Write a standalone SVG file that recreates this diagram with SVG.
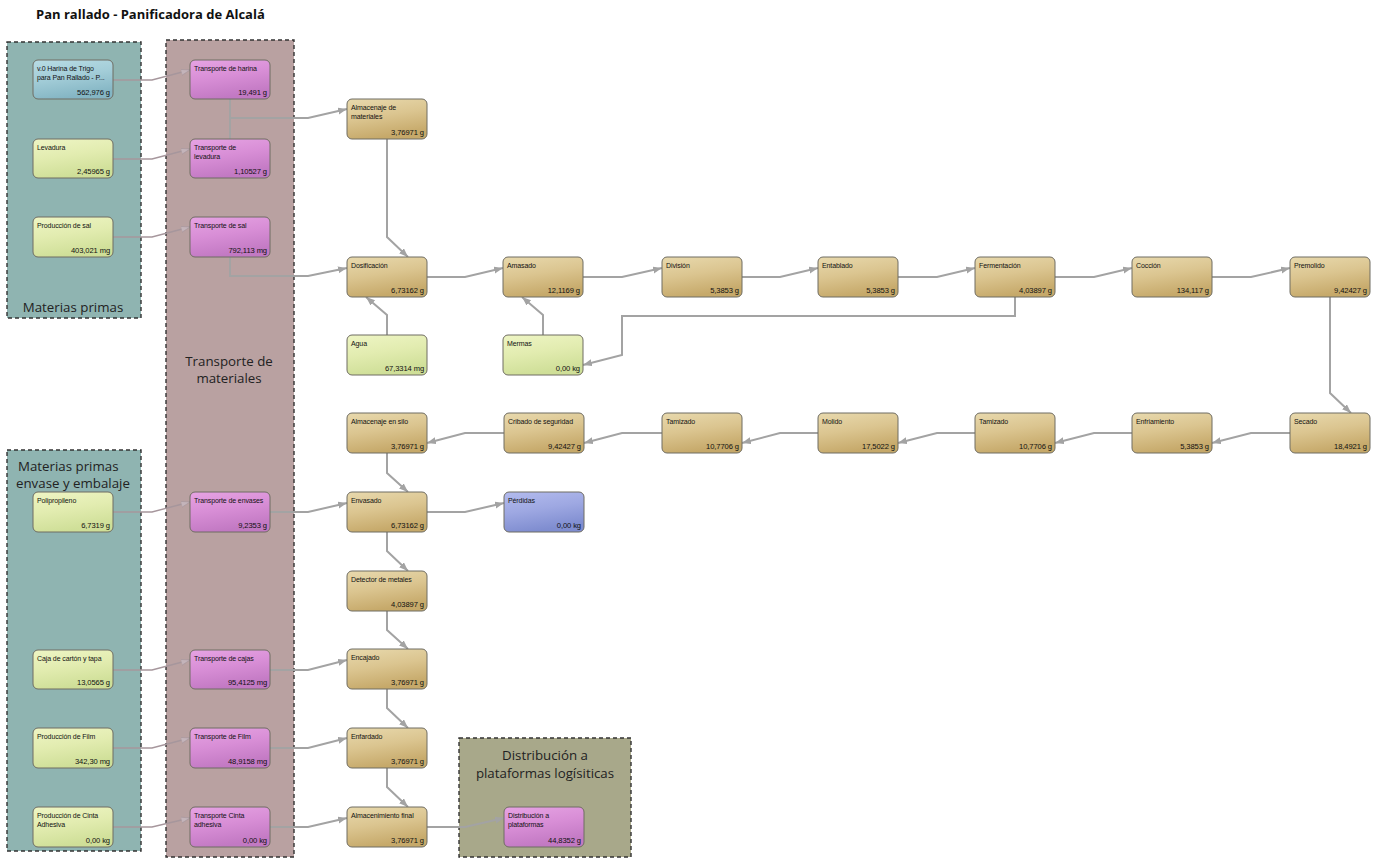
<svg xmlns="http://www.w3.org/2000/svg" width="1381" height="858" viewBox="0 0 1381 858">
  <style>
    .title { font-family: "Open Sans", "Liberation Sans", sans-serif; font-weight: bold; font-size: 13px; fill: #111; }
    .glabel { font-family: "Open Sans", "DejaVu Sans", sans-serif; font-size: 13.3px; fill: #222; }
    .group { stroke: #333; stroke-width: 1.4; stroke-dasharray: 4 3; }
    .node rect { stroke: #6f6c62; stroke-width: 1; }
    .node text { font-family: "Liberation Sans", Arial, sans-serif; font-size: 7px; fill: #111; letter-spacing: -0.1px; }
    .node .val { text-anchor: end; font-size: 7.6px; }
    .proc rect { fill: url(#gProc); }
    .raw rect { fill: url(#gRaw); }
    .trans rect { fill: url(#gTrans); }
    .blue rect { fill: url(#gBlue); }
    .loss rect { fill: url(#gLoss); }
    .flow { fill: none; stroke: #a3a3a3; stroke-width: 2; marker-end: url(#arr); }
    .feed { fill: none; stroke: #a6969c; stroke-width: 1.4; marker-end: url(#arrLight); }
    .joint { fill: none; stroke: #a3a3a3; stroke-width: 2; }
  </style>
  <defs>
    <linearGradient id="gProc" x1="0" y1="0" x2="0.3" y2="1">
      <stop offset="0" stop-color="#e8d9ad"/>
      <stop offset="0.5" stop-color="#dbc590"/>
      <stop offset="1" stop-color="#c6a96a"/>
    </linearGradient>
    <linearGradient id="gRaw" x1="0" y1="0" x2="0.3" y2="1">
      <stop offset="0" stop-color="#eef5c4"/>
      <stop offset="0.5" stop-color="#e2ecb0"/>
      <stop offset="1" stop-color="#cfdf98"/>
    </linearGradient>
    <linearGradient id="gTrans" x1="0" y1="0" x2="0.3" y2="1">
      <stop offset="0" stop-color="#e6a3e3"/>
      <stop offset="0.5" stop-color="#d88ed6"/>
      <stop offset="1" stop-color="#c279c3"/>
    </linearGradient>
    <linearGradient id="gBlue" x1="0" y1="0" x2="0.3" y2="1">
      <stop offset="0" stop-color="#b8dce4"/>
      <stop offset="0.5" stop-color="#a3cdd8"/>
      <stop offset="1" stop-color="#85b6c4"/>
    </linearGradient>
    <linearGradient id="gLoss" x1="0" y1="0" x2="0.3" y2="1">
      <stop offset="0" stop-color="#b3bbee"/>
      <stop offset="0.5" stop-color="#9ea8e2"/>
      <stop offset="1" stop-color="#7f8dd0"/>
    </linearGradient>
    <marker id="arr" markerUnits="userSpaceOnUse" markerWidth="10" markerHeight="8" refX="9" refY="3.5" orient="auto">
      <path d="M0,0 L9,3.5 L0,7 z" fill="#a3a3a3"/>
    </marker>
    <marker id="arrLight" markerUnits="userSpaceOnUse" markerWidth="10" markerHeight="8" refX="9" refY="3.5" orient="auto">
      <path d="M0,0.5 L9,3.5 L0,6.5 z" fill="#c4b4ba" stroke="#a6969c" stroke-width="0.6"/>
    </marker>
  </defs>

  <rect width="1381" height="858" fill="#ffffff"/>

  <text class="title" x="36" y="19">Pan rallado - Panificadora de Alcalá</text>

  <!-- containers -->
  <g id="grp-materias-primas">
    <rect class="group" x="7" y="42" width="134" height="276" fill="#8fb4b1"/>
    <text class="glabel" x="73" y="312" text-anchor="middle">Materias primas</text>
  </g>
  <g id="grp-transporte">
    <rect class="group" x="166" y="40" width="128" height="817" fill="#b9a1a1"/>
    <text class="glabel" x="229" y="366" text-anchor="middle">Transporte de</text>
    <text class="glabel" x="229" y="383" text-anchor="middle">materiales</text>
  </g>
  <g id="grp-envase">
    <rect class="group" x="7" y="450" width="134" height="401" fill="#8fb4b1"/>
    <text class="glabel" x="18" y="471">Materias primas</text>
    <text class="glabel" x="16" y="488">envase y embalaje</text>
  </g>
  <g id="grp-distribucion">
    <rect class="group" x="459" y="738" width="172" height="119" fill="#a8a88a"/>
    <text class="glabel" x="545" y="760" text-anchor="middle">Distribución a</text>
    <text class="glabel" x="545" y="778" text-anchor="middle">plataformas logísiticas</text>
  </g>

  <!-- connectors -->
  <g id="connectors">
    <path class="feed" d="M113,80 H152 L190,70"/>
    <path class="feed" d="M113,159 H152 L190,149"/>
    <path class="feed" d="M113,237 H152 L190,227"/>
    <path class="feed" d="M113,512 H152 L190,502"/>
    <path class="feed" d="M113,670 H152 L190,660"/>
    <path class="feed" d="M113,748 H152 L190,738"/>
    <path class="feed" d="M113,827 H152 L190,818"/>

    <path class="joint" d="M230,99 V139"/>
    <path class="flow" d="M230,118 H308 L347,109"/>
    <path class="flow" d="M230,257 V276 H308 L347,268"/>
    <path class="flow" d="M387,139 V237 L408,257"/>
    <path class="flow" d="M387,335 V315 L366,297"/>
    <path class="flow" d="M427,277 H465 L503,268"/>
    <path class="flow" d="M543,335 V315 L522,297"/>
    <path class="flow" d="M583,277 H622 L662,268"/>
    <path class="flow" d="M742,277 H780 L818,268"/>
    <path class="flow" d="M898,277 H937 L975,268"/>
    <path class="flow" d="M1055,277 H1094 L1132,268"/>
    <path class="flow" d="M1212,277 H1251 L1290,268"/>
    <path class="flow" d="M1015,297 V316 H622 V355 L583,365"/>
    <path class="flow" d="M1330,297 V393 L1351,413"/>
    <path class="flow" d="M1290,433 H1251 L1212,443"/>
    <path class="flow" d="M1132,433 H1094 L1055,443"/>
    <path class="flow" d="M975,433 H937 L898,443"/>
    <path class="flow" d="M818,433 H780 L742,443"/>
    <path class="flow" d="M662,433 H622 L584,443"/>
    <path class="flow" d="M504,433 H465 L427,443"/>
    <path class="flow" d="M387,453 V473 L408,492"/>
    <path class="flow" d="M270,512 H308 L347,503"/>
    <path class="flow" d="M427,512 H465 L504,503"/>
    <path class="flow" d="M387,532 V551 L408,571"/>
    <path class="flow" d="M387,611 V630 L408,649"/>
    <path class="flow" d="M270,670 H308 L347,660"/>
    <path class="flow" d="M387,689 V708 L408,728"/>
    <path class="flow" d="M270,748 H308 L347,738"/>
    <path class="flow" d="M387,768 V787 L408,807"/>
    <path class="flow" d="M270,827 H308 L347,818"/>
    <path class="flow" d="M427,827 H465 L504,818"/>
  </g>

  <!-- raw materials -->
  <g id="n-harina" class="node blue"><rect x="33" y="60" width="80" height="39" rx="5"/><text x="37" y="71">v.0 Harina de Trigo</text><text x="37" y="80">para Pan Rallado - P...</text><text class="val" x="110" y="95">562,976 g</text></g>
  <g id="n-levadura" class="node raw"><rect x="33" y="139" width="80" height="39" rx="5"/><text x="37" y="150">Levadura</text><text class="val" x="110" y="174">2,45965 g</text></g>
  <g id="n-sal" class="node raw"><rect x="33" y="217" width="80" height="40" rx="5"/><text x="37" y="228">Producción de sal</text><text class="val" x="110" y="253">403,021 mg</text></g>
  <g id="n-polipropileno" class="node raw"><rect x="33" y="492" width="80" height="40" rx="5"/><text x="37" y="503">Polipropileno</text><text class="val" x="110" y="528">6,7319 g</text></g>
  <g id="n-caja" class="node raw"><rect x="33" y="650" width="80" height="39" rx="5"/><text x="37" y="661">Caja de cartón y tapa</text><text class="val" x="110" y="685">13,0565 g</text></g>
  <g id="n-film" class="node raw"><rect x="33" y="728" width="80" height="40" rx="5"/><text x="37" y="739">Producción de Film</text><text class="val" x="110" y="764">342,30 mg</text></g>
  <g id="n-cinta" class="node raw"><rect x="33" y="807" width="80" height="40" rx="5"/><text x="37" y="818">Producción de Cinta</text><text x="37" y="827">Adhesiva</text><text class="val" x="110" y="843">0,00 kg</text></g>

  <!-- transport -->
  <g id="n-t-harina" class="node trans"><rect x="190" y="60" width="80" height="39" rx="5"/><text x="194" y="71">Transporte de harina</text><text class="val" x="267" y="95">19,491 g</text></g>
  <g id="n-t-levadura" class="node trans"><rect x="190" y="139" width="80" height="39" rx="5"/><text x="194" y="150">Transporte de</text><text x="194" y="159">levadura</text><text class="val" x="267" y="174">1,10527 g</text></g>
  <g id="n-t-sal" class="node trans"><rect x="190" y="217" width="80" height="40" rx="5"/><text x="194" y="228">Transporte de sal</text><text class="val" x="267" y="253">792,113 mg</text></g>
  <g id="n-t-envases" class="node trans"><rect x="190" y="492" width="80" height="40" rx="5"/><text x="194" y="503">Transporte de envases</text><text class="val" x="267" y="528">9,2353 g</text></g>
  <g id="n-t-cajas" class="node trans"><rect x="190" y="650" width="80" height="39" rx="5"/><text x="194" y="661">Transporte de cajas</text><text class="val" x="267" y="685">95,4125 mg</text></g>
  <g id="n-t-film" class="node trans"><rect x="190" y="728" width="80" height="40" rx="5"/><text x="194" y="739">Transporte de Film</text><text class="val" x="267" y="764">48,9158 mg</text></g>
  <g id="n-t-cinta" class="node trans"><rect x="190" y="807" width="80" height="40" rx="5"/><text x="194" y="818">Transporte Cinta</text><text x="194" y="827">adhesiva</text><text class="val" x="267" y="843">0,00 kg</text></g>

  <!-- process -->
  <g id="n-almacenaje-mat" class="node proc"><rect x="347" y="99" width="80" height="40" rx="5"/><text x="351" y="110">Almacenaje de</text><text x="351" y="119">materiales</text><text class="val" x="424" y="135">3,76971 g</text></g>
  <g id="n-dosificacion" class="node proc"><rect x="347" y="257" width="80" height="40" rx="5"/><text x="351" y="268">Dosificación</text><text class="val" x="424" y="293">6,73162 g</text></g>
  <g id="n-amasado" class="node proc"><rect x="503" y="257" width="80" height="40" rx="5"/><text x="507" y="268">Amasado</text><text class="val" x="580" y="293">12,1169 g</text></g>
  <g id="n-division" class="node proc"><rect x="662" y="257" width="80" height="40" rx="5"/><text x="666" y="268">División</text><text class="val" x="739" y="293">5,3853 g</text></g>
  <g id="n-entablado" class="node proc"><rect x="818" y="257" width="80" height="40" rx="5"/><text x="822" y="268">Entablado</text><text class="val" x="895" y="293">5,3853 g</text></g>
  <g id="n-fermentacion" class="node proc"><rect x="975" y="257" width="80" height="40" rx="5"/><text x="979" y="268">Fermentación</text><text class="val" x="1052" y="293">4,03897 g</text></g>
  <g id="n-coccion" class="node proc"><rect x="1132" y="257" width="80" height="40" rx="5"/><text x="1136" y="268">Cocción</text><text class="val" x="1209" y="293">134,117 g</text></g>
  <g id="n-premolido" class="node proc"><rect x="1290" y="257" width="80" height="40" rx="5"/><text x="1294" y="268">Premolido</text><text class="val" x="1367" y="293">9,42427 g</text></g>
  <g id="n-agua" class="node raw"><rect x="347" y="335" width="80" height="40" rx="5"/><text x="351" y="346">Agua</text><text class="val" x="424" y="371">67,3314 mg</text></g>
  <g id="n-mermas" class="node raw"><rect x="503" y="335" width="80" height="40" rx="5"/><text x="507" y="346">Mermas</text><text class="val" x="580" y="371">0,00 kg</text></g>

  <g id="n-secado" class="node proc"><rect x="1290" y="413" width="80" height="40" rx="5"/><text x="1294" y="424">Secado</text><text class="val" x="1367" y="449">18,4921 g</text></g>
  <g id="n-enfriamiento" class="node proc"><rect x="1132" y="413" width="80" height="40" rx="5"/><text x="1136" y="424">Enfriamiento</text><text class="val" x="1209" y="449">5,3853 g</text></g>
  <g id="n-tamizado-2" class="node proc"><rect x="975" y="413" width="80" height="40" rx="5"/><text x="979" y="424">Tamizado</text><text class="val" x="1052" y="449">10,7706 g</text></g>
  <g id="n-molido" class="node proc"><rect x="818" y="413" width="80" height="40" rx="5"/><text x="822" y="424">Molido</text><text class="val" x="895" y="449">17,5022 g</text></g>
  <g id="n-tamizado-1" class="node proc"><rect x="662" y="413" width="80" height="40" rx="5"/><text x="666" y="424">Tamizado</text><text class="val" x="739" y="449">10,7706 g</text></g>
  <g id="n-cribado" class="node proc"><rect x="504" y="413" width="80" height="40" rx="5"/><text x="508" y="424">Cribado de seguridad</text><text class="val" x="581" y="449">9,42427 g</text></g>
  <g id="n-silo" class="node proc"><rect x="347" y="413" width="80" height="40" rx="5"/><text x="351" y="424">Almacenaje en silo</text><text class="val" x="424" y="449">3,76971 g</text></g>

  <g id="n-envasado" class="node proc"><rect x="347" y="492" width="80" height="40" rx="5"/><text x="351" y="503">Envasado</text><text class="val" x="424" y="528">6,73162 g</text></g>
  <g id="n-perdidas" class="node loss"><rect x="504" y="492" width="80" height="40" rx="5"/><text x="508" y="503">Pérdidas</text><text class="val" x="581" y="528">0,00 kg</text></g>
  <g id="n-detector" class="node proc"><rect x="347" y="571" width="80" height="40" rx="5"/><text x="351" y="582">Detector de metales</text><text class="val" x="424" y="607">4,03897 g</text></g>
  <g id="n-encajado" class="node proc"><rect x="347" y="649" width="80" height="40" rx="5"/><text x="351" y="660">Encajado</text><text class="val" x="424" y="685">3,76971 g</text></g>
  <g id="n-enfardado" class="node proc"><rect x="347" y="728" width="80" height="40" rx="5"/><text x="351" y="739">Enfardado</text><text class="val" x="424" y="764">3,76971 g</text></g>
  <g id="n-almacenamiento-final" class="node proc"><rect x="347" y="807" width="80" height="40" rx="5"/><text x="351" y="818">Almacenimiento final</text><text class="val" x="424" y="843">3,76971 g</text></g>
  <g id="n-distribucion" class="node trans"><rect x="504" y="807" width="80" height="40" rx="5"/><text x="508" y="818">Distribución a</text><text x="508" y="827">plataformas</text><text class="val" x="581" y="843">44,8352 g</text></g>
</svg>
